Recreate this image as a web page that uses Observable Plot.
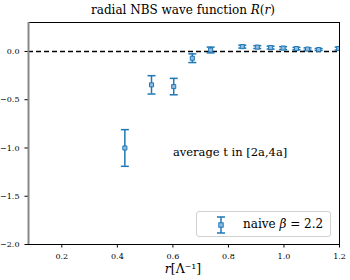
<!DOCTYPE html>
<html><head><meta charset="utf-8">
<script src="https://cdn.jsdelivr.net/npm/d3@7"></script>
<script src="https://cdn.jsdelivr.net/npm/@observablehq/plot@0.6"></script>
<style>
body{margin:0;background:#fff;}
#wrap{position:relative;width:350px;height:280px;font-family:"DejaVu Serif";}
#title{position:absolute;left:0;width:366px;top:3px;text-align:center;font-size:12px;line-height:15px;}
#xlabel{position:absolute;left:0;width:366px;top:261px;text-align:center;font-size:12.5px;line-height:15px;}
#legend{position:absolute;left:196px;top:211px;width:135px;height:26px;border:1px solid #d0d0d0;border-radius:3px;box-sizing:border-box;background:rgba(255,255,255,0.8);font-size:12px;line-height:15px;}
#legend svg{position:absolute;left:14px;top:3px;}
#legend span{position:absolute;left:46px;top:5px;white-space:nowrap;}
</style></head>
<body><div id="wrap">
<div id="title">radial NBS wave function <i>R</i>(<i>r</i>)</div>
<div id="xlabel"><i>r</i>[Λ⁻¹]</div>
</div>
<script>
const r   = [0.427, 0.523, 0.603, 0.670, 0.736, 0.850, 0.904, 0.952, 0.997, 1.045, 1.085, 1.125, 1.197];
const R   = [-1.0, -0.346, -0.364, -0.07, 0.015, 0.05, 0.045, 0.04, 0.035, 0.03, 0.025, 0.02, 0.03];
const err = [0.19, 0.095, 0.085, 0.045, 0.03, 0.015, 0.015, 0.015, 0.015, 0.012, 0.012, 0.01, 0.015];
const xTicks = [0.2, 0.4, 0.6, 0.8, 1.0, 1.2];
const yTicks = [-2.0, -1.5, -1.0, -0.5, 0.0];
const annotation = "average t in [2a,4a]";

const data = r.map((x, i) => ({x, y: R[i], lo: R[i] - err[i], hi: R[i] + err[i]}));
const blue = "#1f77b4";
const cap = {draw(ctx, size){ const w = Math.sqrt(size/Math.PI); ctx.moveTo(-w,0); ctx.lineTo(w,0);} };

const plot = Plot.plot({
  width: 350, height: 280,
  marginLeft: 28, marginRight: 11, marginTop: 22, marginBottom: 36,
  style: {fontFamily: '"DejaVu Serif"', fontSize: "8px", color: "#000", background: "transparent"},
  x: {domain: [0.08, 1.2], ticks: xTicks, tickFormat: ".1f", tickSize: 3.5, label: null},
  y: {domain: [-2.0, 0.3], ticks: yTicks, tickFormat: ".1f", tickSize: 3.5, label: null},
  marks: [
    Plot.ruleY([0], {stroke: "black", strokeWidth: 1.5, strokeDasharray: "5,3"}),
    Plot.ruleX(data, {x: "x", y1: "lo", y2: "hi", stroke: blue, strokeWidth: 1.5, clip: true}),
    Plot.dot(data, {x: "x", y: "lo", symbol: cap, r: 4, stroke: blue, strokeWidth: 1.5, fill: "none", clip: true}),
    Plot.dot(data, {x: "x", y: "hi", symbol: cap, r: 4, stroke: blue, strokeWidth: 1.5, fill: "none", clip: true}),
    Plot.dot(data, {x: "x", y: "y", symbol: "square", r: 2.3, stroke: blue, strokeWidth: 1, fill: "#8fbbe0", clip: true}),
    Plot.text([annotation], {x: 0.6, y: -1.05, text: d => d, textAnchor: "start", fontSize: 11.5}),
    Plot.frame({stroke: "black", strokeWidth: 1}),
    Plot.ruleX([0.08], {stroke: "#888", strokeWidth: 2})
  ]
});
document.getElementById("wrap").prepend(plot);

const leg = document.createElement("div");
leg.id = "legend";
leg.innerHTML = `<svg width="20" height="20"><line x1="10" x2="10" y1="2" y2="18" stroke="${blue}" stroke-width="1.5"/><line x1="6" x2="14" y1="2" y2="2" stroke="${blue}" stroke-width="1.5"/><line x1="6" x2="14" y1="18" y2="18" stroke="${blue}" stroke-width="1.5"/><rect x="7.8" y="7.8" width="4.4" height="4.4" fill="#8fbbe0" stroke="${blue}"/></svg><span>naive <i>β</i> = 2.2</span>`;
document.getElementById("wrap").appendChild(leg);
</script>
</body></html>
